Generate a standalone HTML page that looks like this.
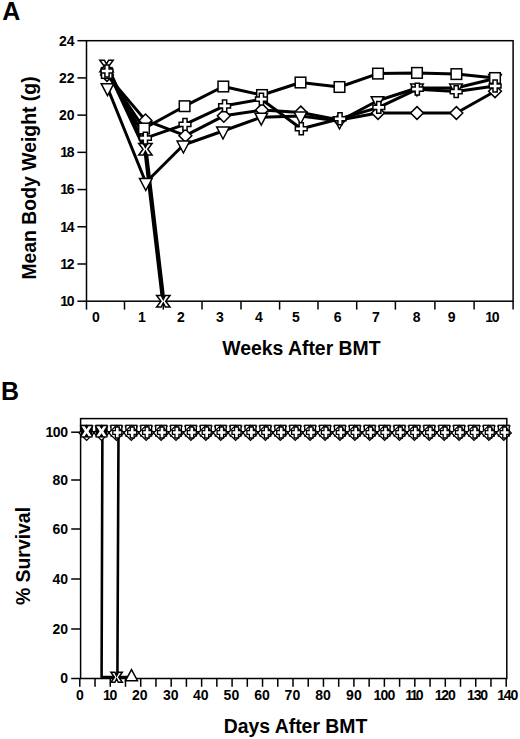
<!DOCTYPE html>
<html lang="en"><head><meta charset="utf-8"><title>Figure</title>
<style>
html,body{margin:0;padding:0;background:#fff;}
svg{display:block;}
text{font-family:"Liberation Sans", Arial, Helvetica, sans-serif;font-weight:bold;fill:#000;}
.l14{font-size:14px;}
.l12{font-size:12px;}
.ttl{font-size:19.4px;}
.pan{font-size:25px;}
.t{stroke:#000;stroke-width:1.5;}
.m{fill:#fff;stroke:#000;stroke-width:1.5;stroke-linejoin:miter;}
.mb{fill:#fff;stroke:#000;stroke-width:1.3;stroke-linejoin:miter;}
.mx{fill:#fff;stroke:none;}
</style></head><body>
<svg width="520" height="739" viewBox="0 0 520 739">
<rect width="520" height="739" fill="#fff"/>
<rect x="86.5" y="40.7" width="426.6" height="260.5" fill="none" stroke="#000" stroke-width="1.5"/>
<line x1="77.4" y1="40.70" x2="86.5" y2="40.70" class="t"/>
<text x="74.60" y="45.60" class="l14" text-anchor="end">24</text>
<line x1="77.4" y1="77.91" x2="86.5" y2="77.91" class="t"/>
<text x="74.60" y="82.81" class="l14" text-anchor="end">22</text>
<line x1="77.4" y1="115.13" x2="86.5" y2="115.13" class="t"/>
<text x="74.60" y="120.03" class="l14" text-anchor="end">20</text>
<line x1="77.4" y1="152.34" x2="86.5" y2="152.34" class="t"/>
<text x="73.30" y="157.24" class="l14" text-anchor="end" letter-spacing="-1.3">18</text>
<line x1="77.4" y1="189.56" x2="86.5" y2="189.56" class="t"/>
<text x="73.30" y="194.46" class="l14" text-anchor="end" letter-spacing="-1.3">16</text>
<line x1="77.4" y1="226.77" x2="86.5" y2="226.77" class="t"/>
<text x="73.30" y="231.67" class="l14" text-anchor="end" letter-spacing="-1.3">14</text>
<line x1="77.4" y1="263.99" x2="86.5" y2="263.99" class="t"/>
<text x="73.30" y="268.89" class="l14" text-anchor="end" letter-spacing="-1.3">12</text>
<line x1="77.4" y1="301.20" x2="86.5" y2="301.20" class="t"/>
<text x="73.30" y="306.10" class="l14" text-anchor="end" letter-spacing="-1.3">10</text>
<line x1="86.5" y1="301.2" x2="86.5" y2="309.6" class="t"/>
<line x1="124.5" y1="301.2" x2="124.5" y2="309.6" class="t"/>
<line x1="163.3" y1="301.2" x2="163.3" y2="309.6" class="t"/>
<line x1="202" y1="301.2" x2="202" y2="309.6" class="t"/>
<line x1="241" y1="301.2" x2="241" y2="309.6" class="t"/>
<line x1="279.6" y1="301.2" x2="279.6" y2="309.6" class="t"/>
<line x1="318" y1="301.2" x2="318" y2="309.6" class="t"/>
<line x1="356.7" y1="301.2" x2="356.7" y2="309.6" class="t"/>
<line x1="395.4" y1="301.2" x2="395.4" y2="309.6" class="t"/>
<line x1="434.9" y1="301.2" x2="434.9" y2="309.6" class="t"/>
<line x1="474.1" y1="301.2" x2="474.1" y2="309.6" class="t"/>
<line x1="513.1" y1="301.2" x2="513.1" y2="309.6" class="t"/>
<text x="96.00" y="322.40" class="l14" text-anchor="middle">0</text>
<text x="142.00" y="322.40" class="l14" text-anchor="middle">1</text>
<text x="181.00" y="322.40" class="l14" text-anchor="middle">2</text>
<text x="220.00" y="322.40" class="l14" text-anchor="middle">3</text>
<text x="258.80" y="322.40" class="l14" text-anchor="middle">4</text>
<text x="296.00" y="322.40" class="l14" text-anchor="middle">5</text>
<text x="337.70" y="322.40" class="l14" text-anchor="middle">6</text>
<text x="376.00" y="322.40" class="l14" text-anchor="middle">7</text>
<text x="416.75" y="322.40" class="l14" text-anchor="middle">8</text>
<text x="451.75" y="322.40" class="l14" text-anchor="middle">9</text>
<text x="491.75" y="322.40" class="l14" text-anchor="middle" letter-spacing="-1.3">10</text>
<text x="301.4" y="354.6" class="ttl" text-anchor="middle">Weeks After BMT</text>
<text transform="translate(35.6,178) rotate(-90)" class="ttl" text-anchor="middle">Mean Body Weight (g)</text>
<text x="2.3" y="20" class="pan">A</text>
<polyline points="107.00,75.00 145.50,120.40 185.40,135.70 223.80,115.80 262.00,110.00 300.80,112.50 339.50,120.00 378.00,113.00 417.00,113.00 456.40,113.00 495.00,91.25" fill="none" stroke="#000" stroke-width="3.0" stroke-linejoin="round"/>
<polyline points="106.80,73.00 144.00,128.50 184.60,106.20 223.30,86.50 262.00,95.00 300.50,82.50 339.50,87.00 378.00,73.60 417.00,72.90 456.40,74.10 495.00,78.00" fill="none" stroke="#000" stroke-width="3.0" stroke-linejoin="round"/>
<polyline points="107.50,87.70 145.80,182.50 183.40,145.00 223.00,131.00 261.25,117.20 300.50,116.00 339.50,121.00 377.50,100.70 417.00,88.00 456.00,88.00 495.00,78.50" fill="none" stroke="#000" stroke-width="3.0" stroke-linejoin="round"/>
<polyline points="106.50,66.00 145.40,149.20 163.30,301.20" fill="none" stroke="#000" stroke-width="4.4" stroke-linejoin="round"/>
<polyline points="107.00,71.00 145.40,138.20 185.00,124.40 224.60,105.80 261.40,99.20 301.25,128.75 340.00,118.75 378.80,107.40 417.30,89.20 456.20,91.60 495.10,86.00" fill="none" stroke="#000" stroke-width="3.0" stroke-linejoin="round"/>
<polygon points="107.00,68.60 113.40,75.00 107.00,81.40 100.60,75.00" class="m"/>
<polygon points="145.50,114.00 151.90,120.40 145.50,126.80 139.10,120.40" class="m"/>
<polygon points="185.40,129.30 191.80,135.70 185.40,142.10 179.00,135.70" class="m"/>
<polygon points="223.80,109.40 230.20,115.80 223.80,122.20 217.40,115.80" class="m"/>
<polygon points="262.00,103.60 268.40,110.00 262.00,116.40 255.60,110.00" class="m"/>
<polygon points="300.80,106.10 307.20,112.50 300.80,118.90 294.40,112.50" class="m"/>
<polygon points="339.50,113.60 345.90,120.00 339.50,126.40 333.10,120.00" class="m"/>
<polygon points="378.00,106.60 384.40,113.00 378.00,119.40 371.60,113.00" class="m"/>
<polygon points="417.00,106.60 423.40,113.00 417.00,119.40 410.60,113.00" class="m"/>
<polygon points="456.40,106.60 462.80,113.00 456.40,119.40 450.00,113.00" class="m"/>
<polygon points="495.00,84.85 501.40,91.25 495.00,97.65 488.60,91.25" class="m"/>
<polygon points="101.20,83.70 113.80,83.70 107.50,95.70" class="m"/>
<polygon points="139.50,178.50 152.10,178.50 145.80,190.50" class="m"/>
<polygon points="177.10,141.00 189.70,141.00 183.40,153.00" class="m"/>
<polygon points="216.70,127.00 229.30,127.00 223.00,139.00" class="m"/>
<polygon points="254.95,113.20 267.55,113.20 261.25,125.20" class="m"/>
<polygon points="294.20,112.00 306.80,112.00 300.50,124.00" class="m"/>
<polygon points="333.20,117.00 345.80,117.00 339.50,129.00" class="m"/>
<polygon points="371.20,96.70 383.80,96.70 377.50,108.70" class="m"/>
<polygon points="410.70,84.00 423.30,84.00 417.00,96.00" class="m"/>
<polygon points="449.70,84.00 462.30,84.00 456.00,96.00" class="m"/>
<polygon points="488.70,74.50 501.30,74.50 495.00,86.50" class="m"/>
<rect x="101.50" y="67.70" width="10.60" height="10.60" class="m"/>
<rect x="138.70" y="123.20" width="10.60" height="10.60" class="m"/>
<rect x="179.30" y="100.90" width="10.60" height="10.60" class="m"/>
<rect x="218.00" y="81.20" width="10.60" height="10.60" class="m"/>
<rect x="256.70" y="89.70" width="10.60" height="10.60" class="m"/>
<rect x="295.20" y="77.20" width="10.60" height="10.60" class="m"/>
<rect x="334.20" y="81.70" width="10.60" height="10.60" class="m"/>
<rect x="372.70" y="68.30" width="10.60" height="10.60" class="m"/>
<rect x="411.70" y="67.60" width="10.60" height="10.60" class="m"/>
<rect x="451.10" y="68.80" width="10.60" height="10.60" class="m"/>
<rect x="489.70" y="72.70" width="10.60" height="10.60" class="m"/>
<polygon points="99.80,60.20 104.40,60.20 106.50,64.20 108.60,60.20 113.20,60.20 108.90,66.00 113.20,71.80 108.60,71.80 106.50,67.80 104.40,71.80 99.80,71.80 104.10,66.00" class="m"/>
<polygon points="138.70,143.40 143.30,143.40 145.40,147.40 147.50,143.40 152.10,143.40 147.80,149.20 152.10,155.00 147.50,155.00 145.40,151.00 143.30,155.00 138.70,155.00 143.00,149.20" class="m"/>
<polygon points="156.60,295.40 161.20,295.40 163.30,299.40 165.40,295.40 170.00,295.40 165.70,301.20 170.00,307.00 165.40,307.00 163.30,303.00 161.20,307.00 156.60,307.00 160.90,301.20" class="m"/>
<polygon points="104.90,65.10 109.10,65.10 109.10,68.90 112.90,68.90 112.90,73.10 109.10,73.10 109.10,76.90 104.90,76.90 104.90,73.10 101.10,73.10 101.10,68.90 104.90,68.90" class="m"/>
<polygon points="143.30,132.30 147.50,132.30 147.50,136.10 151.30,136.10 151.30,140.30 147.50,140.30 147.50,144.10 143.30,144.10 143.30,140.30 139.50,140.30 139.50,136.10 143.30,136.10" class="m"/>
<polygon points="182.90,118.50 187.10,118.50 187.10,122.30 190.90,122.30 190.90,126.50 187.10,126.50 187.10,130.30 182.90,130.30 182.90,126.50 179.10,126.50 179.10,122.30 182.90,122.30" class="m"/>
<polygon points="222.50,99.90 226.70,99.90 226.70,103.70 230.50,103.70 230.50,107.90 226.70,107.90 226.70,111.70 222.50,111.70 222.50,107.90 218.70,107.90 218.70,103.70 222.50,103.70" class="m"/>
<polygon points="259.30,93.30 263.50,93.30 263.50,97.10 267.30,97.10 267.30,101.30 263.50,101.30 263.50,105.10 259.30,105.10 259.30,101.30 255.50,101.30 255.50,97.10 259.30,97.10" class="m"/>
<polygon points="299.15,122.85 303.35,122.85 303.35,126.65 307.15,126.65 307.15,130.85 303.35,130.85 303.35,134.65 299.15,134.65 299.15,130.85 295.35,130.85 295.35,126.65 299.15,126.65" class="m"/>
<polygon points="337.90,112.85 342.10,112.85 342.10,116.65 345.90,116.65 345.90,120.85 342.10,120.85 342.10,124.65 337.90,124.65 337.90,120.85 334.10,120.85 334.10,116.65 337.90,116.65" class="m"/>
<polygon points="376.70,101.50 380.90,101.50 380.90,105.30 384.70,105.30 384.70,109.50 380.90,109.50 380.90,113.30 376.70,113.30 376.70,109.50 372.90,109.50 372.90,105.30 376.70,105.30" class="m"/>
<polygon points="415.20,83.30 419.40,83.30 419.40,87.10 423.20,87.10 423.20,91.30 419.40,91.30 419.40,95.10 415.20,95.10 415.20,91.30 411.40,91.30 411.40,87.10 415.20,87.10" class="m"/>
<polygon points="454.10,85.70 458.30,85.70 458.30,89.50 462.10,89.50 462.10,93.70 458.30,93.70 458.30,97.50 454.10,97.50 454.10,93.70 450.30,93.70 450.30,89.50 454.10,89.50" class="m"/>
<polygon points="493.00,80.10 497.20,80.10 497.20,83.90 501.00,83.90 501.00,88.10 497.20,88.10 497.20,91.90 493.00,91.90 493.00,88.10 489.20,88.10 489.20,83.90 493.00,83.90" class="m"/>
<rect x="80.6" y="418.6" width="426.20000000000005" height="259.9" fill="none" stroke="#000" stroke-width="1.5"/>
<line x1="71.2" y1="432.20" x2="80.6" y2="432.20" class="t"/>
<text x="67.60" y="437.00" class="l14" text-anchor="end" letter-spacing="-0.4">100</text>
<line x1="71.2" y1="480.00" x2="80.6" y2="480.00" class="t"/>
<text x="68.00" y="484.80" class="l14" text-anchor="end">80</text>
<line x1="71.2" y1="529.00" x2="80.6" y2="529.00" class="t"/>
<text x="68.00" y="533.80" class="l14" text-anchor="end">60</text>
<line x1="71.2" y1="579.00" x2="80.6" y2="579.00" class="t"/>
<text x="68.00" y="583.80" class="l14" text-anchor="end">40</text>
<line x1="71.2" y1="629.00" x2="80.6" y2="629.00" class="t"/>
<text x="68.00" y="633.80" class="l14" text-anchor="end">20</text>
<line x1="71.2" y1="678.50" x2="80.6" y2="678.50" class="t"/>
<text x="68.00" y="683.30" class="l14" text-anchor="end">0</text>
<line x1="79.80" y1="678.5" x2="79.80" y2="686.8" class="t"/>
<text x="79.80" y="699.90" class="l14" text-anchor="middle">0</text>
<line x1="95.03" y1="678.5" x2="95.03" y2="686.8" class="t"/>
<line x1="110.26" y1="678.5" x2="110.26" y2="686.8" class="t"/>
<text x="109.61" y="699.90" class="l14" text-anchor="middle" letter-spacing="-1.3">10</text>
<line x1="125.49" y1="678.5" x2="125.49" y2="686.8" class="t"/>
<line x1="140.71" y1="678.5" x2="140.71" y2="686.8" class="t"/>
<text x="139.71" y="699.90" class="l14" text-anchor="middle">20</text>
<line x1="155.94" y1="678.5" x2="155.94" y2="686.8" class="t"/>
<line x1="171.17" y1="678.5" x2="171.17" y2="686.8" class="t"/>
<text x="170.67" y="699.90" class="l14" text-anchor="middle">30</text>
<line x1="186.40" y1="678.5" x2="186.40" y2="686.8" class="t"/>
<line x1="201.63" y1="678.5" x2="201.63" y2="686.8" class="t"/>
<text x="200.83" y="699.90" class="l14" text-anchor="middle">40</text>
<line x1="216.86" y1="678.5" x2="216.86" y2="686.8" class="t"/>
<line x1="232.09" y1="678.5" x2="232.09" y2="686.8" class="t"/>
<text x="231.39" y="699.90" class="l14" text-anchor="middle">50</text>
<line x1="247.31" y1="678.5" x2="247.31" y2="686.8" class="t"/>
<line x1="262.54" y1="678.5" x2="262.54" y2="686.8" class="t"/>
<text x="262.04" y="699.90" class="l14" text-anchor="middle">60</text>
<line x1="277.77" y1="678.5" x2="277.77" y2="686.8" class="t"/>
<line x1="293.00" y1="678.5" x2="293.00" y2="686.8" class="t"/>
<text x="292.40" y="699.90" class="l14" text-anchor="middle">70</text>
<line x1="308.23" y1="678.5" x2="308.23" y2="686.8" class="t"/>
<line x1="323.46" y1="678.5" x2="323.46" y2="686.8" class="t"/>
<text x="323.06" y="699.90" class="l14" text-anchor="middle">80</text>
<line x1="338.69" y1="678.5" x2="338.69" y2="686.8" class="t"/>
<line x1="353.91" y1="678.5" x2="353.91" y2="686.8" class="t"/>
<text x="353.91" y="699.90" class="l14" text-anchor="middle">90</text>
<line x1="369.14" y1="678.5" x2="369.14" y2="686.8" class="t"/>
<line x1="384.37" y1="678.5" x2="384.37" y2="686.8" class="t"/>
<text x="383.95" y="699.90" class="l14" text-anchor="middle" letter-spacing="-0.85">100</text>
<line x1="399.60" y1="678.5" x2="399.60" y2="686.8" class="t"/>
<line x1="414.83" y1="678.5" x2="414.83" y2="686.8" class="t"/>
<text x="413.38" y="699.90" class="l14" text-anchor="middle" letter-spacing="-2.1">110</text>
<line x1="430.06" y1="678.5" x2="430.06" y2="686.8" class="t"/>
<line x1="445.29" y1="678.5" x2="445.29" y2="686.8" class="t"/>
<text x="444.71" y="699.90" class="l14" text-anchor="middle" letter-spacing="-1.15">120</text>
<line x1="460.51" y1="678.5" x2="460.51" y2="686.8" class="t"/>
<line x1="475.74" y1="678.5" x2="475.74" y2="686.8" class="t"/>
<text x="476.97" y="699.90" class="l14" text-anchor="middle" letter-spacing="-1.15">130</text>
<line x1="490.97" y1="678.5" x2="490.97" y2="686.8" class="t"/>
<line x1="506.20" y1="678.5" x2="506.20" y2="686.8" class="t"/>
<text x="507.12" y="699.90" class="l14" text-anchor="middle" letter-spacing="-1.15">140</text>
<text x="295.5" y="732.6" class="ttl" text-anchor="middle">Days After BMT</text>
<text transform="translate(29.6,556) rotate(-90)" class="ttl" text-anchor="middle">% Survival</text>
<text x="1.1" y="399.6" class="pan">B</text>
<polyline points="86.60,432.20 503.80,432.20" fill="none" stroke="#000" stroke-width="2.2" stroke-linejoin="round"/>
<polyline points="86.60,432.20 102.40,432.20 101.60,677.00 116.60,677.00" fill="none" stroke="#000" stroke-width="2.6" stroke-linejoin="round"/>
<polyline points="86.60,432.20 118.50,432.20 117.40,677.00 131.30,677.00" fill="none" stroke="#000" stroke-width="2.6" stroke-linejoin="round"/>
<polygon points="110.40,426.13 122.40,426.13 116.40,437.13" class="mb"/>
<rect x="111.00" y="425.30" width="10.80" height="10.80" class="mb"/>
<polygon points="116.40,425.40 123.90,432.90 116.40,440.40 108.90,432.90" class="mb"/>
<polygon points="115.35,427.00 119.25,427.00 119.25,430.55 121.80,430.55 121.80,434.45 119.25,434.45 119.25,438.00 115.35,438.00 115.35,434.45 112.80,434.45 112.80,430.55 115.35,430.55" class="mb"/>
<polygon points="125.30,426.13 137.30,426.13 131.30,437.13" class="mb"/>
<rect x="125.90" y="425.30" width="10.80" height="10.80" class="mb"/>
<polygon points="131.30,425.40 138.80,432.90 131.30,440.40 123.80,432.90" class="mb"/>
<polygon points="130.25,427.00 134.15,427.00 134.15,430.55 136.70,430.55 136.70,434.45 134.15,434.45 134.15,438.00 130.25,438.00 130.25,434.45 127.70,434.45 127.70,430.55 130.25,430.55" class="mb"/>
<polygon points="140.20,426.13 152.20,426.13 146.20,437.13" class="mb"/>
<rect x="140.80" y="425.30" width="10.80" height="10.80" class="mb"/>
<polygon points="146.20,425.40 153.70,432.90 146.20,440.40 138.70,432.90" class="mb"/>
<polygon points="145.15,427.00 149.05,427.00 149.05,430.55 151.60,430.55 151.60,434.45 149.05,434.45 149.05,438.00 145.15,438.00 145.15,434.45 142.60,434.45 142.60,430.55 145.15,430.55" class="mb"/>
<polygon points="155.10,426.13 167.10,426.13 161.10,437.13" class="mb"/>
<rect x="155.70" y="425.30" width="10.80" height="10.80" class="mb"/>
<polygon points="161.10,425.40 168.60,432.90 161.10,440.40 153.60,432.90" class="mb"/>
<polygon points="160.05,427.00 163.95,427.00 163.95,430.55 166.50,430.55 166.50,434.45 163.95,434.45 163.95,438.00 160.05,438.00 160.05,434.45 157.50,434.45 157.50,430.55 160.05,430.55" class="mb"/>
<polygon points="170.00,426.13 182.00,426.13 176.00,437.13" class="mb"/>
<rect x="170.60" y="425.30" width="10.80" height="10.80" class="mb"/>
<polygon points="176.00,425.40 183.50,432.90 176.00,440.40 168.50,432.90" class="mb"/>
<polygon points="174.95,427.00 178.85,427.00 178.85,430.55 181.40,430.55 181.40,434.45 178.85,434.45 178.85,438.00 174.95,438.00 174.95,434.45 172.40,434.45 172.40,430.55 174.95,430.55" class="mb"/>
<polygon points="184.90,426.13 196.90,426.13 190.90,437.13" class="mb"/>
<rect x="185.50" y="425.30" width="10.80" height="10.80" class="mb"/>
<polygon points="190.90,425.40 198.40,432.90 190.90,440.40 183.40,432.90" class="mb"/>
<polygon points="189.85,427.00 193.75,427.00 193.75,430.55 196.30,430.55 196.30,434.45 193.75,434.45 193.75,438.00 189.85,438.00 189.85,434.45 187.30,434.45 187.30,430.55 189.85,430.55" class="mb"/>
<polygon points="199.80,426.13 211.80,426.13 205.80,437.13" class="mb"/>
<rect x="200.40" y="425.30" width="10.80" height="10.80" class="mb"/>
<polygon points="205.80,425.40 213.30,432.90 205.80,440.40 198.30,432.90" class="mb"/>
<polygon points="204.75,427.00 208.65,427.00 208.65,430.55 211.20,430.55 211.20,434.45 208.65,434.45 208.65,438.00 204.75,438.00 204.75,434.45 202.20,434.45 202.20,430.55 204.75,430.55" class="mb"/>
<polygon points="214.70,426.13 226.70,426.13 220.70,437.13" class="mb"/>
<rect x="215.30" y="425.30" width="10.80" height="10.80" class="mb"/>
<polygon points="220.70,425.40 228.20,432.90 220.70,440.40 213.20,432.90" class="mb"/>
<polygon points="219.65,427.00 223.55,427.00 223.55,430.55 226.10,430.55 226.10,434.45 223.55,434.45 223.55,438.00 219.65,438.00 219.65,434.45 217.10,434.45 217.10,430.55 219.65,430.55" class="mb"/>
<polygon points="229.60,426.13 241.60,426.13 235.60,437.13" class="mb"/>
<rect x="230.20" y="425.30" width="10.80" height="10.80" class="mb"/>
<polygon points="235.60,425.40 243.10,432.90 235.60,440.40 228.10,432.90" class="mb"/>
<polygon points="234.55,427.00 238.45,427.00 238.45,430.55 241.00,430.55 241.00,434.45 238.45,434.45 238.45,438.00 234.55,438.00 234.55,434.45 232.00,434.45 232.00,430.55 234.55,430.55" class="mb"/>
<polygon points="244.50,426.13 256.50,426.13 250.50,437.13" class="mb"/>
<rect x="245.10" y="425.30" width="10.80" height="10.80" class="mb"/>
<polygon points="250.50,425.40 258.00,432.90 250.50,440.40 243.00,432.90" class="mb"/>
<polygon points="249.45,427.00 253.35,427.00 253.35,430.55 255.90,430.55 255.90,434.45 253.35,434.45 253.35,438.00 249.45,438.00 249.45,434.45 246.90,434.45 246.90,430.55 249.45,430.55" class="mb"/>
<polygon points="259.40,426.13 271.40,426.13 265.40,437.13" class="mb"/>
<rect x="260.00" y="425.30" width="10.80" height="10.80" class="mb"/>
<polygon points="265.40,425.40 272.90,432.90 265.40,440.40 257.90,432.90" class="mb"/>
<polygon points="264.35,427.00 268.25,427.00 268.25,430.55 270.80,430.55 270.80,434.45 268.25,434.45 268.25,438.00 264.35,438.00 264.35,434.45 261.80,434.45 261.80,430.55 264.35,430.55" class="mb"/>
<polygon points="274.30,426.13 286.30,426.13 280.30,437.13" class="mb"/>
<rect x="274.90" y="425.30" width="10.80" height="10.80" class="mb"/>
<polygon points="280.30,425.40 287.80,432.90 280.30,440.40 272.80,432.90" class="mb"/>
<polygon points="279.25,427.00 283.15,427.00 283.15,430.55 285.70,430.55 285.70,434.45 283.15,434.45 283.15,438.00 279.25,438.00 279.25,434.45 276.70,434.45 276.70,430.55 279.25,430.55" class="mb"/>
<polygon points="289.20,426.13 301.20,426.13 295.20,437.13" class="mb"/>
<rect x="289.80" y="425.30" width="10.80" height="10.80" class="mb"/>
<polygon points="295.20,425.40 302.70,432.90 295.20,440.40 287.70,432.90" class="mb"/>
<polygon points="294.15,427.00 298.05,427.00 298.05,430.55 300.60,430.55 300.60,434.45 298.05,434.45 298.05,438.00 294.15,438.00 294.15,434.45 291.60,434.45 291.60,430.55 294.15,430.55" class="mb"/>
<polygon points="304.10,426.13 316.10,426.13 310.10,437.13" class="mb"/>
<rect x="304.70" y="425.30" width="10.80" height="10.80" class="mb"/>
<polygon points="310.10,425.40 317.60,432.90 310.10,440.40 302.60,432.90" class="mb"/>
<polygon points="309.05,427.00 312.95,427.00 312.95,430.55 315.50,430.55 315.50,434.45 312.95,434.45 312.95,438.00 309.05,438.00 309.05,434.45 306.50,434.45 306.50,430.55 309.05,430.55" class="mb"/>
<polygon points="319.00,426.13 331.00,426.13 325.00,437.13" class="mb"/>
<rect x="319.60" y="425.30" width="10.80" height="10.80" class="mb"/>
<polygon points="325.00,425.40 332.50,432.90 325.00,440.40 317.50,432.90" class="mb"/>
<polygon points="323.95,427.00 327.85,427.00 327.85,430.55 330.40,430.55 330.40,434.45 327.85,434.45 327.85,438.00 323.95,438.00 323.95,434.45 321.40,434.45 321.40,430.55 323.95,430.55" class="mb"/>
<polygon points="333.90,426.13 345.90,426.13 339.90,437.13" class="mb"/>
<rect x="334.50" y="425.30" width="10.80" height="10.80" class="mb"/>
<polygon points="339.90,425.40 347.40,432.90 339.90,440.40 332.40,432.90" class="mb"/>
<polygon points="338.85,427.00 342.75,427.00 342.75,430.55 345.30,430.55 345.30,434.45 342.75,434.45 342.75,438.00 338.85,438.00 338.85,434.45 336.30,434.45 336.30,430.55 338.85,430.55" class="mb"/>
<polygon points="348.80,426.13 360.80,426.13 354.80,437.13" class="mb"/>
<rect x="349.40" y="425.30" width="10.80" height="10.80" class="mb"/>
<polygon points="354.80,425.40 362.30,432.90 354.80,440.40 347.30,432.90" class="mb"/>
<polygon points="353.75,427.00 357.65,427.00 357.65,430.55 360.20,430.55 360.20,434.45 357.65,434.45 357.65,438.00 353.75,438.00 353.75,434.45 351.20,434.45 351.20,430.55 353.75,430.55" class="mb"/>
<polygon points="363.70,426.13 375.70,426.13 369.70,437.13" class="mb"/>
<rect x="364.30" y="425.30" width="10.80" height="10.80" class="mb"/>
<polygon points="369.70,425.40 377.20,432.90 369.70,440.40 362.20,432.90" class="mb"/>
<polygon points="368.65,427.00 372.55,427.00 372.55,430.55 375.10,430.55 375.10,434.45 372.55,434.45 372.55,438.00 368.65,438.00 368.65,434.45 366.10,434.45 366.10,430.55 368.65,430.55" class="mb"/>
<polygon points="378.60,426.13 390.60,426.13 384.60,437.13" class="mb"/>
<rect x="379.20" y="425.30" width="10.80" height="10.80" class="mb"/>
<polygon points="384.60,425.40 392.10,432.90 384.60,440.40 377.10,432.90" class="mb"/>
<polygon points="383.55,427.00 387.45,427.00 387.45,430.55 390.00,430.55 390.00,434.45 387.45,434.45 387.45,438.00 383.55,438.00 383.55,434.45 381.00,434.45 381.00,430.55 383.55,430.55" class="mb"/>
<polygon points="393.50,426.13 405.50,426.13 399.50,437.13" class="mb"/>
<rect x="394.10" y="425.30" width="10.80" height="10.80" class="mb"/>
<polygon points="399.50,425.40 407.00,432.90 399.50,440.40 392.00,432.90" class="mb"/>
<polygon points="398.45,427.00 402.35,427.00 402.35,430.55 404.90,430.55 404.90,434.45 402.35,434.45 402.35,438.00 398.45,438.00 398.45,434.45 395.90,434.45 395.90,430.55 398.45,430.55" class="mb"/>
<polygon points="408.40,426.13 420.40,426.13 414.40,437.13" class="mb"/>
<rect x="409.00" y="425.30" width="10.80" height="10.80" class="mb"/>
<polygon points="414.40,425.40 421.90,432.90 414.40,440.40 406.90,432.90" class="mb"/>
<polygon points="413.35,427.00 417.25,427.00 417.25,430.55 419.80,430.55 419.80,434.45 417.25,434.45 417.25,438.00 413.35,438.00 413.35,434.45 410.80,434.45 410.80,430.55 413.35,430.55" class="mb"/>
<polygon points="423.30,426.13 435.30,426.13 429.30,437.13" class="mb"/>
<rect x="423.90" y="425.30" width="10.80" height="10.80" class="mb"/>
<polygon points="429.30,425.40 436.80,432.90 429.30,440.40 421.80,432.90" class="mb"/>
<polygon points="428.25,427.00 432.15,427.00 432.15,430.55 434.70,430.55 434.70,434.45 432.15,434.45 432.15,438.00 428.25,438.00 428.25,434.45 425.70,434.45 425.70,430.55 428.25,430.55" class="mb"/>
<polygon points="438.20,426.13 450.20,426.13 444.20,437.13" class="mb"/>
<rect x="438.80" y="425.30" width="10.80" height="10.80" class="mb"/>
<polygon points="444.20,425.40 451.70,432.90 444.20,440.40 436.70,432.90" class="mb"/>
<polygon points="443.15,427.00 447.05,427.00 447.05,430.55 449.60,430.55 449.60,434.45 447.05,434.45 447.05,438.00 443.15,438.00 443.15,434.45 440.60,434.45 440.60,430.55 443.15,430.55" class="mb"/>
<polygon points="453.10,426.13 465.10,426.13 459.10,437.13" class="mb"/>
<rect x="453.70" y="425.30" width="10.80" height="10.80" class="mb"/>
<polygon points="459.10,425.40 466.60,432.90 459.10,440.40 451.60,432.90" class="mb"/>
<polygon points="458.05,427.00 461.95,427.00 461.95,430.55 464.50,430.55 464.50,434.45 461.95,434.45 461.95,438.00 458.05,438.00 458.05,434.45 455.50,434.45 455.50,430.55 458.05,430.55" class="mb"/>
<polygon points="468.00,426.13 480.00,426.13 474.00,437.13" class="mb"/>
<rect x="468.60" y="425.30" width="10.80" height="10.80" class="mb"/>
<polygon points="474.00,425.40 481.50,432.90 474.00,440.40 466.50,432.90" class="mb"/>
<polygon points="472.95,427.00 476.85,427.00 476.85,430.55 479.40,430.55 479.40,434.45 476.85,434.45 476.85,438.00 472.95,438.00 472.95,434.45 470.40,434.45 470.40,430.55 472.95,430.55" class="mb"/>
<polygon points="482.90,426.13 494.90,426.13 488.90,437.13" class="mb"/>
<rect x="483.50" y="425.30" width="10.80" height="10.80" class="mb"/>
<polygon points="488.90,425.40 496.40,432.90 488.90,440.40 481.40,432.90" class="mb"/>
<polygon points="487.85,427.00 491.75,427.00 491.75,430.55 494.30,430.55 494.30,434.45 491.75,434.45 491.75,438.00 487.85,438.00 487.85,434.45 485.30,434.45 485.30,430.55 487.85,430.55" class="mb"/>
<polygon points="497.80,426.13 509.80,426.13 503.80,437.13" class="mb"/>
<rect x="498.40" y="425.30" width="10.80" height="10.80" class="mb"/>
<polygon points="503.80,425.40 511.30,432.90 503.80,440.40 496.30,432.90" class="mb"/>
<polygon points="502.75,427.00 506.65,427.00 506.65,430.55 509.20,430.55 509.20,434.45 506.65,434.45 506.65,438.00 502.75,438.00 502.75,434.45 500.20,434.45 500.20,430.55 502.75,430.55" class="mb"/>
<polygon points="80.60,426.13 92.60,426.13 86.60,437.13" class="mb"/>
<rect x="81.20" y="425.30" width="10.80" height="10.80" class="mb"/>
<polygon points="86.60,425.40 94.10,432.90 86.60,440.40 79.10,432.90" class="mb"/>
<rect x="80.70" y="425.00" width="11.8" height="12.6" fill="#000"/>
<polygon points="81.60,426.30 84.60,426.30 86.60,429.30 88.60,426.30 91.60,426.30 88.50,431.30 91.60,436.30 88.60,436.30 86.60,433.30 84.60,436.30 81.60,436.30 84.70,431.30" class="mx"/>
<polygon points="95.50,426.13 107.50,426.13 101.50,437.13" class="mb"/>
<rect x="96.10" y="425.30" width="10.80" height="10.80" class="mb"/>
<polygon points="101.50,425.40 109.00,432.90 101.50,440.40 94.00,432.90" class="mb"/>
<rect x="95.60" y="425.00" width="11.8" height="12.6" fill="#000"/>
<polygon points="96.50,426.30 99.50,426.30 101.50,429.30 103.50,426.30 106.50,426.30 103.40,431.30 106.50,436.30 103.50,436.30 101.50,433.30 99.50,436.30 96.50,436.30 99.60,431.30" class="mx"/>
<polygon points="110.90,672.30 114.90,672.30 116.60,675.70 118.30,672.30 122.30,672.30 118.80,677.30 122.30,682.30 118.30,682.30 116.60,678.90 114.90,682.30 110.90,682.30 114.40,677.30" class="m"/>
<polygon points="125.50,680.73 137.50,680.73 131.50,669.53" class="m"/>
</svg>
</body></html>
